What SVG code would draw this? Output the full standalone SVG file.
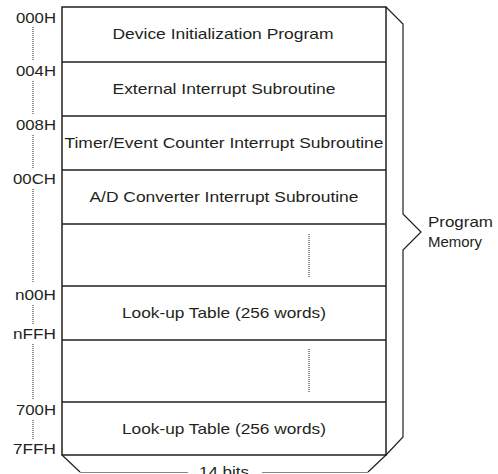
<svg xmlns="http://www.w3.org/2000/svg" width="498" height="474" viewBox="0 0 498 474">
<style>
text{font-family:"Liberation Sans",Arial,sans-serif;font-size:15px;fill:#231f20}
.c{text-anchor:middle}
.a{text-anchor:end}
.box{fill:#fff;stroke:#231f20;stroke-width:1.5}
.ln{stroke:#231f20;stroke-width:1.5;fill:none}
.dot{stroke:#231f20;stroke-width:1;stroke-dasharray:1 1;fill:none}
.br{stroke:#231f20;stroke-width:1.2;fill:none}
.gl{stroke:#888;stroke-width:1;fill:none}
</style>
<rect x="0" y="0" width="498" height="474" fill="#fff"/>
<g id="memory">
<rect class="box" x="62" y="7" width="324" height="448"/>
</g>
<g id="row1"><text class="c" x="223" y="39" textLength="221" lengthAdjust="spacingAndGlyphs">Device Initialization Program</text></g>
<g id="row2"><line class="ln" x1="62" y1="62" x2="386" y2="62"/><text class="c" x="224" y="94" textLength="223" lengthAdjust="spacingAndGlyphs">External Interrupt Subroutine</text></g>
<g id="row3"><line class="ln" x1="62" y1="116" x2="386" y2="116"/><text class="c" x="224" y="148" textLength="319" lengthAdjust="spacingAndGlyphs">Timer/Event Counter Interrupt Subroutine</text></g>
<g id="row4"><line class="ln" x1="62" y1="170" x2="386" y2="170"/><text class="c" x="224" y="202" textLength="269" lengthAdjust="spacingAndGlyphs">A/D Converter Interrupt Subroutine</text></g>
<g id="row5"><line class="ln" x1="62" y1="224" x2="386" y2="224"/><line class="dot" x1="309" y1="234" x2="309" y2="277"/></g>
<g id="row6"><line class="ln" x1="62" y1="286" x2="386" y2="286"/><text class="c" x="224" y="318" textLength="204" lengthAdjust="spacingAndGlyphs">Look-up Table (256 words)</text></g>
<g id="row7"><line class="ln" x1="62" y1="340" x2="386" y2="340"/><line class="dot" x1="309" y1="349" x2="309" y2="393"/></g>
<g id="row8"><line class="ln" x1="62" y1="402" x2="386" y2="402"/><text class="c" x="224" y="434" textLength="204" lengthAdjust="spacingAndGlyphs">Look-up Table (256 words)</text></g>
<g id="addresses">
<text class="a" x="56" y="23" textLength="40" lengthAdjust="spacingAndGlyphs">000H</text>
<text class="a" x="56" y="76" textLength="40" lengthAdjust="spacingAndGlyphs">004H</text>
<text class="a" x="56" y="130" textLength="40" lengthAdjust="spacingAndGlyphs">008H</text>
<text class="a" x="56" y="184" textLength="43" lengthAdjust="spacingAndGlyphs">00CH</text>
<text class="a" x="56" y="300" textLength="41" lengthAdjust="spacingAndGlyphs">n00H</text>
<text class="a" x="56" y="339" textLength="43" lengthAdjust="spacingAndGlyphs">nFFH</text>
<text class="a" x="56" y="415" textLength="40" lengthAdjust="spacingAndGlyphs">700H</text>
<text class="a" x="56" y="454" textLength="43" lengthAdjust="spacingAndGlyphs">7FFH</text>
<line class="dot" x1="33" y1="27" x2="33" y2="60"/>
<line class="dot" x1="33" y1="81" x2="33" y2="114"/>
<line class="dot" x1="33" y1="135" x2="33" y2="168"/>
<line class="dot" x1="33" y1="189" x2="33" y2="283"/>
<line class="dot" x1="33" y1="305" x2="33" y2="324"/>
<line class="dot" x1="33" y1="344" x2="33" y2="400"/>
<line class="dot" x1="33" y1="420" x2="33" y2="440"/>
</g>
<g id="brace">
<polyline class="br" points="386,7 403,24 403,214 421,232 403,250 403,437 386,455"/>
<text x="428" y="227" textLength="65" lengthAdjust="spacingAndGlyphs">Program</text>
<text x="428" y="247" textLength="54" lengthAdjust="spacingAndGlyphs">Memory</text>
</g>
<g id="width">
<polyline class="br" points="62,455 80,472"/>
<polyline class="br" points="386,455 368,472"/>
<line class="gl" x1="80" y1="472.5" x2="188" y2="472.5"/>
<line class="gl" x1="262" y1="472.5" x2="368" y2="472.5"/>
<text class="c" x="224" y="477" textLength="50" lengthAdjust="spacingAndGlyphs">14 bits</text>
</g>
</svg>
